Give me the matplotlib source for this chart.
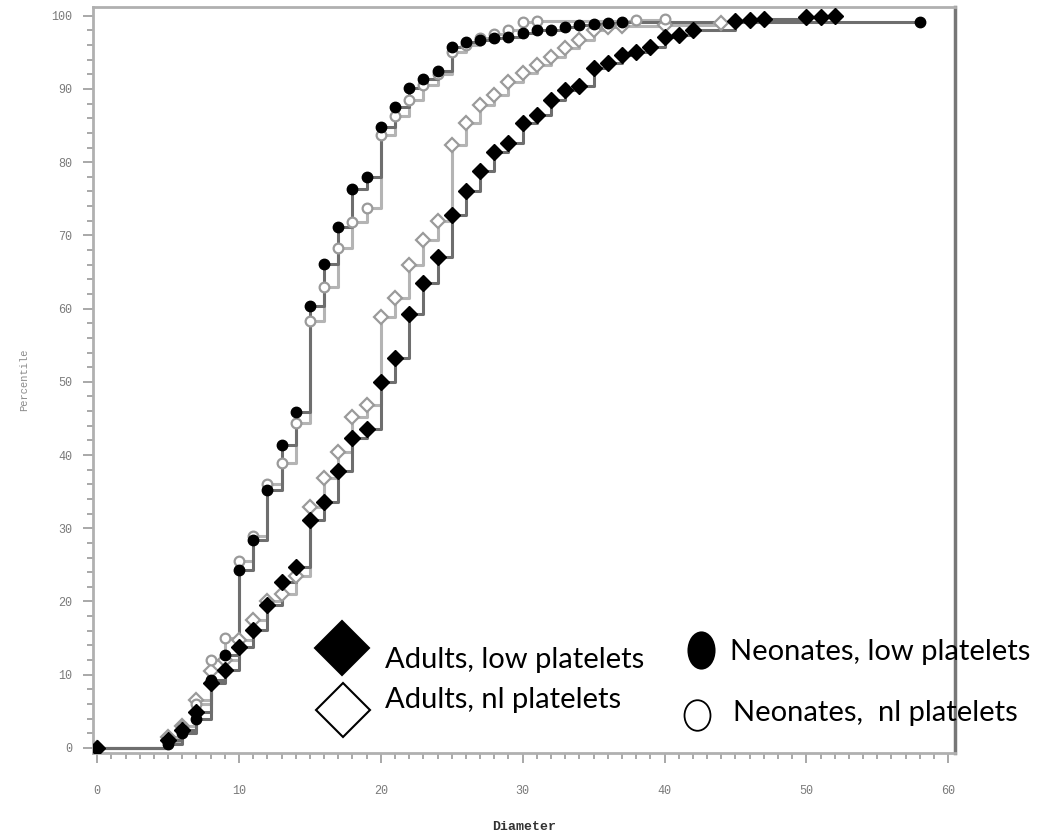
import numpy as np
import matplotlib.pyplot as plt
from matplotlib.lines import Line2D
from matplotlib.path import Path
from matplotlib.transforms import Affine2D

# cumulative percentile of platelet diameter, per group
adults_low_x = [0, 5, 6, 7, 8, 9, 10, 11, 12, 13, 14, 15, 16, 17, 18, 19, 20, 21, 22, 23, 24, 25,
                26, 27, 28, 29, 30, 31, 32, 33, 34, 35, 36, 37, 38, 39, 40, 41, 42, 45, 46, 47, 50, 51, 52]
adults_low_y = [0, 1.1, 2.5, 4.9, 8.8, 10.6, 13.8, 16.1, 19.5, 22.6, 24.7, 31.1, 33.6, 37.8, 42.3, 43.6,
                50, 53.3, 59.2, 63.5, 67.1, 72.8, 76, 78.8, 81.4, 82.6, 85.4, 86.5, 88.5, 89.9, 90.4,
                92.9, 93.6, 94.7, 95.1, 95.8, 97.1, 97.4, 98.1, 99.3, 99.4, 99.5, 99.8, 99.9, 100]

adults_nl_x = [0, 5, 6, 7, 8, 9, 10, 11, 12, 13, 14, 15, 16, 17, 18, 19, 20, 21, 22, 23, 24, 25,
               26, 27, 28, 29, 30, 31, 32, 33, 34, 35, 36, 37, 40, 44]
adults_nl_y = [0, 1.5, 3, 6.5, 10.5, 12, 14.8, 17.5, 20, 21, 23.5, 32.9, 36.9, 40.4, 45.2, 46.9,
               58.9, 61.5, 66, 69.4, 72, 82.4, 85.3, 87.8, 89.2, 91, 92.2, 93.3, 94.4, 95.6, 96.7,
               98.1, 98.4, 98.6, 98.8, 99]

neo_low_x = [0, 5, 6, 7, 8, 9, 10, 11, 12, 13, 14, 15, 16, 17, 18, 19, 20, 21, 22, 23, 24, 25,
             26, 27, 28, 29, 30, 31, 32, 33, 34, 35, 36, 37, 58]
neo_low_y = [0, 0.5, 2, 4, 9.3, 12.7, 24.3, 28.4, 35.2, 41.4, 45.9, 60.3, 66.1, 71.2, 76.4, 78,
             84.8, 87.5, 90.1, 91.3, 92.4, 95.7, 96.4, 96.7, 97, 97.1, 97.7, 98, 98.1, 98.5, 98.8,
             98.9, 99, 99.1, 99.2]

neo_nl_x = [0, 5, 6, 7, 8, 9, 10, 11, 12, 13, 14, 15, 16, 17, 18, 19, 20, 21, 22, 23, 24, 25,
            26, 27, 28, 29, 30, 31, 38, 40]
neo_nl_y = [0, 1, 3, 6, 12, 15, 25.5, 29, 36, 38.9, 44.4, 58.3, 63, 68.3, 71.9, 73.8, 83.7, 86.3,
            88.5, 90.5, 92, 95, 96, 97, 97.5, 98, 99.2, 99.3, 99.4, 99.6]

labels = ["Adults, low platelets", "Adults, nl platelets",
          "Neonates, low platelets", "Neonates,  nl platelets"]

DARK = '#6e6e6e'
LIGHT = '#b4b4b4'
MONO = 'Liberation Mono'


def tall_ellipse(ratio):
    return Path.unit_circle().transformed(Affine2D().scale(ratio, 1.0))


fig = plt.figure(figsize=(10.44, 8.33), dpi=100)
ax = fig.add_axes([0.089, 0.096, 0.826, 0.8956])

series = [
    (adults_nl_x, adults_nl_y, LIGHT, dict(marker='D', ms=7, mfc='white', mec='#9a9a9a', mew=1.6)),
    (neo_nl_x, neo_nl_y, LIGHT, dict(marker='o', ms=7, mfc='white', mec='#9a9a9a', mew=1.6)),
    (adults_low_x, adults_low_y, DARK, dict(marker='D', ms=8.5, mfc='black', mec='black', mew=1)),
    (neo_low_x, neo_low_y, DARK, dict(marker='o', ms=7.5, mfc='black', mec='black', mew=1)),
]
for xs, ys, col, mk in series:
    ax.step(xs, ys, where='post', color=col, lw=2.2, zorder=2)
    ax.plot(xs, ys, ls='none', zorder=3, **mk)

ax.set_xlim(-0.3, 60.5)
ax.set_ylim(-0.7, 101.2)
ax.set_xticks(np.arange(0, 61, 10))
ax.set_xticks(np.arange(0, 61, 1), minor=True)
ax.set_yticks(np.arange(0, 101, 10))
ax.set_yticks(np.arange(0, 101, 2), minor=True)
ax.tick_params(which='both', direction='out', color='#9a9a9a', width=1.2)
ax.tick_params(which='major', length=7, labelsize=8.5, labelcolor='#7a7a7a', pad=8)
ax.tick_params(which='minor', length=4)
for lab in ax.get_xticklabels() + ax.get_yticklabels():
    lab.set_fontfamily(MONO)
ax.tick_params(axis='x', pad=16)

for side in ['left', 'bottom', 'top']:
    ax.spines[side].set_color('#b0b0b0')
    ax.spines[side].set_linewidth(2)
ax.spines['right'].set_color('#777777')
ax.spines['right'].set_linewidth(2.5)

ax.set_xlabel('Diameter', fontfamily=MONO, fontsize=9.5, fontweight='bold',
              color='#333333', labelpad=17)
ax.set_ylabel('Percentile', fontfamily=MONO, fontsize=7.5, color='#8a8a8a', labelpad=16)

# key drawn on top of the plot, in figure pixels
W, H = 1044, 833
keys = [
    (342, 648, dict(marker='D', ms=28, mfc='black', mec='black', mew=1.5), 385, 660),
    (343, 710, dict(marker='D', ms=28, mfc='white', mec='black', mew=1.5), 385, 700),
    (701, 650, dict(marker=tall_ellipse(0.72), ms=26, mfc='black', mec='black', mew=1.5), 730, 652),
    (697, 715, dict(marker=tall_ellipse(0.85), ms=22, mfc='white', mec='black', mew=1.3), 733, 713),
]
for (mx, my, mk, tx, ty), text in zip(keys, labels):
    fig.add_artist(Line2D([mx / W], [1 - my / H], transform=fig.transFigure, ls='none', **mk))
    fig.text(tx / W, 1 - ty / H, text, fontsize=21, fontfamily='Lato', va='center', ha='left')

fig.savefig('out.png', dpi=100)
